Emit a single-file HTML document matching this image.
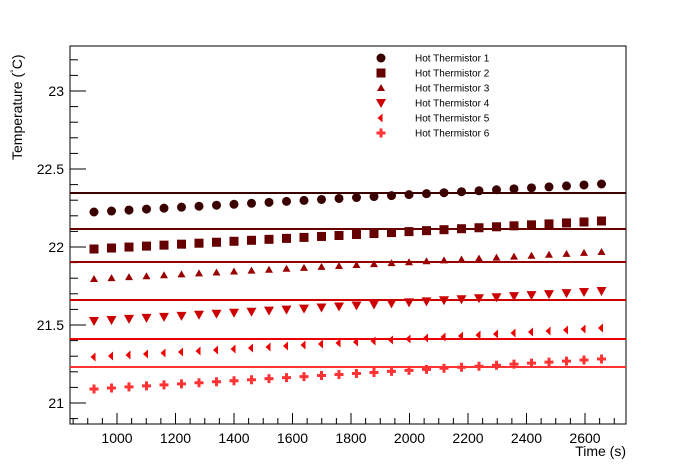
<!DOCTYPE html>
<html><head><meta charset="utf-8"><style>
body{margin:0;background:#fff}
svg{display:block;font-family:"Liberation Sans",sans-serif}
</style></head><body>
<svg id="s" width="696" height="472" viewBox="0 0 696 472"></svg>
<script>
const s=document.getElementById('s');let h='';
const X=t=>117+(t-1000)*0.2925, Y=v=>403-(v-21)*156;
h+='<rect x="70" y="46" width="556" height="378" fill="none" stroke="#000" stroke-width="1"/>';
for(let t=850;t<=2750;t+=50){const x=X(t);if(x<70||x>626)continue;const L=(t%200===0)?11:6;h+=`<line x1="${x}" y1="424" x2="${x}" y2="${424-L}" stroke="#000"/>`;}
for(let t=1000;t<=2600;t+=200)h+=`<text x="${X(t)}" y="443" font-size="14" text-anchor="middle">${t}</text>`;
for(let i=0;i<=27;i++){const v=20.9+i*0.1,y=Y(v);if(y<46||y>424)continue;const L=(Math.round(v*10)%5===0)?16:8;h+=`<line x1="70" y1="${y}" x2="${70+L}" y2="${y}" stroke="#000"/>`;}
[[21,"21"],[21.5,"21.5"],[22,"22"],[22.5,"22.5"],[23,"23"]].forEach(([v,l])=>h+=`<text x="64" y="${Y(v)+5}" font-size="14" text-anchor="end">${l}</text>`);
h+='<text x="626" y="456" font-size="14" text-anchor="end">Time (s)</text>';
h+='<text transform="translate(22,160) rotate(-90)" font-size="14">Temperature (<tspan dy="-5" font-size="9">°</tspan><tspan dy="5">C)</tspan></text>';
const cols=['#3a0000','#660000','#990000','#cc0000','#ee0000','#ff3333'];
const lines=[193,229,262,300,339,367];
const se=[[212,184],[249,221],[279,252],[321,291],[357,328],[389,359]];
lines.forEach((y,i)=>h+=`<line x1="70" y1="${y}" x2="626" y2="${y}" stroke="${cols[i]}" stroke-width="2"/>`);
function mk(i,x,y){const c=cols[i];
 if(i==0)return `<circle cx="${x}" cy="${y}" r="4.5" fill="${c}"/>`;
 if(i==1)return `<rect x="${x-4.5}" y="${y-4.5}" width="9" height="9" fill="${c}"/>`;
 if(i==2)return `<path d="M${x} ${y-4}L${x+4} ${y+3}L${x-4} ${y+3}Z" fill="${c}"/>`;
 if(i==3)return `<path d="M${x-5} ${y-4}L${x+5} ${y-4}L${x} ${y+5}Z" fill="${c}"/>`;
 if(i==4)return `<path d="M${x-3.5} ${y}L${x+1.5} ${y-4.5}L${x+1.5} ${y+4.5}Z" fill="${c}"/>`;
 return `<path d="M${x-1.5} ${y-4.5}h3v3h3v3h-3v3h-3v-3h-3v-3h3Z" fill="${c}"/>`;}
for(let i=0;i<6;i++)for(let k=0;k<30;k++){const x=94+k*17.5,y=se[i][0]+(se[i][1]-se[i][0])*k/29;h+=mk(i,x,y);}
const ln=["Hot Thermistor 1","Hot Thermistor 2","Hot Thermistor 3","Hot Thermistor 4","Hot Thermistor 5","Hot Thermistor 6"];
ln.forEach((l,i)=>{const y=58+i*15;h+=mk(i,381,y);h+=`<text x="415" y="${y+3.5}" font-size="10">${l}</text>`;});
s.innerHTML=h;
</script>
</body></html>
